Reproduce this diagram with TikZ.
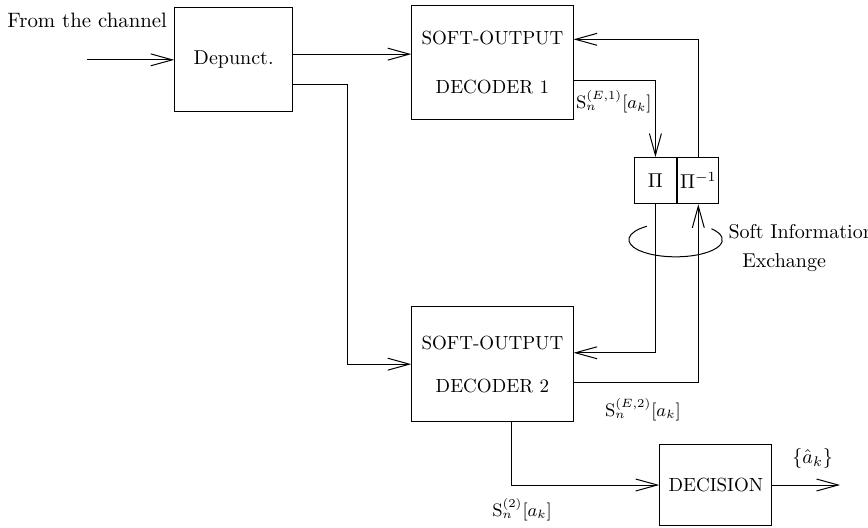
\documentclass[tikz,border=0pt]{standalone}
\usepackage{amsmath}
\usetikzlibrary{arrows.meta,positioning}

\begin{document}
\begin{tikzpicture}[line width=0.5pt,
	>={Straight Barb[length=3.8mm,width=2.1mm]},
	block/.style={draw, align=center, inner sep=0pt},
	caps/.style={font=\fontsize{9.5}{11.4}\selectfont},
	lbl/.style={inner sep=1pt, font=\small}]
	\useasboundingbox (0, 0) rectangle (15.23, 9.26);
	% blocks
	\node [block, minimum width=2.07cm, minimum height=1.83cm] (depunct) at (4.1, 8.21) {Depunct.};
	\node [block, caps, minimum width=2.83cm, minimum height=2cm] (dec1) at (8.64, 8.17) {SOFT-OUTPUT\\[13pt]DECODER 1};
	\node [block, caps, minimum width=2.83cm, minimum height=2.02cm] (dec2) at (8.64, 2.87) {SOFT-OUTPUT\\[10pt]DECODER 2};
	\node [block, minimum width=0.75cm, minimum height=0.81cm] (pi) at (11.5, 6.09) {$\Pi$};
	\node [block, minimum width=0.72cm, minimum height=0.81cm, right=0pt of pi] (pinv) {$\Pi^{-1}$};
	\node [block, caps, minimum width=1.97cm, minimum height=1.42cm] (decision) at (12.56, 0.75) {DECISION};
	% input and output
	\node [font=\fontsize{10.4}{12}\selectfont] (chan) at (1.53, 8.91) {From the channel};
	\coordinate (in) at (1.53, 8.21);
	\coordinate (out) at (14.74, 0.75);
	\draw [->] (in) -- (depunct);
	\draw [->] ([yshift=1mm]depunct.east) -- ([yshift=1mm]depunct.east -| dec1.west);
	\draw [->] ([yshift=-4.4mm]depunct.east) -- ++(0.96, 0) |- (dec2.west);
	% soft information exchange
	\draw [->] ([yshift=-3.3mm]dec1.east) -| (pi.north);
	\draw [->] (pinv.north) |- ([yshift=4mm]dec1.east);
	\draw [->] (pi.south) |- ([yshift=2mm]dec2.east);
	\draw [->] ([yshift=-3.3mm]dec2.east) -| (pinv.south);
	\draw [->] ([xshift=3.4mm]dec2.south) |- (decision.west);
	\draw [->] (decision) -- (out);
	\draw (11.35, 5.29) arc [start angle=128, end angle=400, x radius=0.82, y radius=0.3];
	% labels
	\node [lbl] (s1) at (10.77, 7.47) {$\mathrm{S}_n^{(E,1)}[a_k]$};
	\node [lbl] (s2) at (11.28, 2.07) {$\mathrm{S}_n^{(E,2)}[a_k]$};
	\node [lbl] (s3) at (9.16, 0.32) {$\mathrm{S}_n^{(2)}[a_k]$};
	\node [lbl, font=\normalsize] (ahat) at (14.26, 1.22) {$\{\hat{a}_k\}$};
	\node [lbl, anchor=west, font=\normalsize] (soft) at (12.74, 5.19) {Soft Information};
	\node [lbl, anchor=west, font=\normalsize] (exch) at (12.98, 4.65) {Exchange};
\end{tikzpicture}
\end{document}
